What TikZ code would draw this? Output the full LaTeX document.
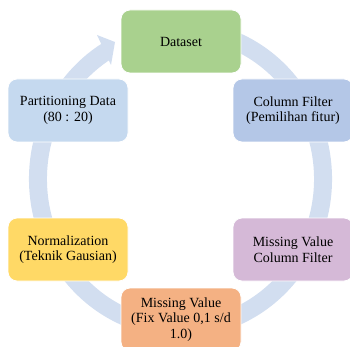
\documentclass[tikz,border=0pt]{standalone}
\usepackage{fontspec}
\setmainfont{Liberation Serif}
\usetikzlibrary{calc}
\definecolor{ringc}{HTML}{D2DEF0}
\definecolor{dsg}{HTML}{A9D18E}
\definecolor{cfb}{HTML}{B4C7E7}
\definecolor{mvp}{HTML}{D5B9D7}
\definecolor{mvo}{HTML}{F4B183}
\definecolor{nry}{HTML}{FFD966}
\definecolor{pdb}{HTML}{C5D9EF}
\begin{document}
\begin{tikzpicture}[x=1pt,y=1pt,
  stage/.style={rounded corners=9pt, draw=white, line width=0.8pt,
    minimum width=120pt, minimum height=63pt, align=center,
    font=\fontsize{14}{15.5}\selectfont, inner sep=0pt, text=black}]
\useasboundingbox (0,0) rectangle (350,-347);
\coordinate (c) at (180.5,-179);
% cycle ring
\draw[ringc, line width=18pt] ($(c)+(68:142.5pt and 149.5pt)$)
  arc[start angle=68, end angle=-239, x radius=142.5, y radius=149.5];
\coordinate (h1) at (97,-35);
\coordinate (h2) at (115,-42);
\coordinate (h3) at (111,-65);
\fill[ringc] (h1) -- (h2) -- (h3) -- cycle;
% stages
\node[stage, fill=dsg] (ds) at (181,-41.5) {Dataset};
\node[stage, fill=cfb] (cf) at (293,-110.5) {Column Filter\\(Pemilihan fitur)};
\node[stage, fill=mvp] (mvcf) at (293,-249.5) {Missing Value\\Column Filter};
\node[stage, fill=mvo] (mvf) at (181,-319.5) {Missing Value\\(Fix Value 0,1 s/d\\1.0)};
\node[stage, fill=nry] (nr) at (68,-249.5) {Normalization\\(Teknik Gausian)};
\node[stage, fill=pdb] (pd) at (68,-110.5) {Partitioning Data\\(80 : 20)};
\end{tikzpicture}
\end{document}
